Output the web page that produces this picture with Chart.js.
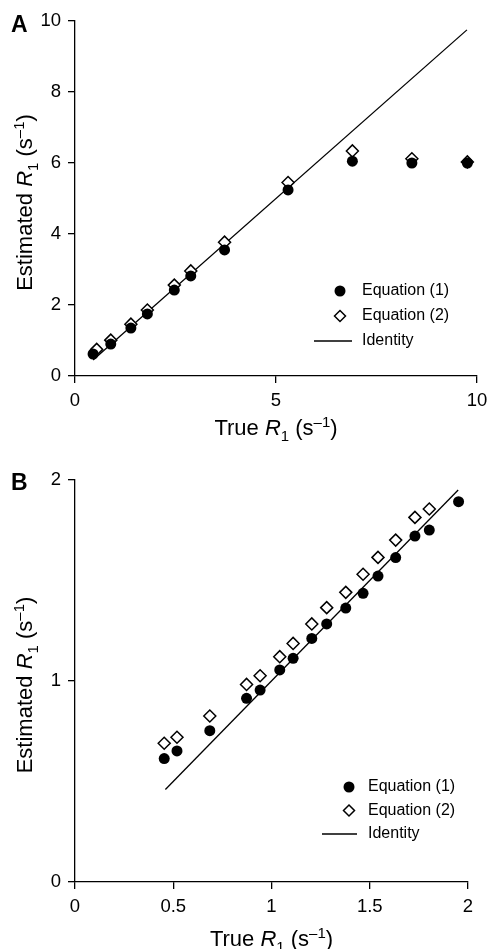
<!DOCTYPE html>
<html>
<head>
<meta charset="utf-8">
<script src="https://cdn.jsdelivr.net/npm/chart.js@4"></script>
<style>
  html, body { margin: 0; padding: 0; background: #fff; }
  .panel { position: absolute; left: 0; width: 490px; }
  #panelA { top: 0; height: 460px; }
  #panelB { top: 460px; height: 489px; }
</style>
</head>
<body>
<div class="panel" id="panelA"><canvas id="chartA"></canvas></div>
<div class="panel" id="panelB"><canvas id="chartB"></canvas></div>
<script>
// panel A
const trueA1 = [0.45, 0.89, 1.39, 1.80, 2.47, 2.88, 3.72, 5.30, 6.90, 8.38, 9.76];
const estA1 = [0.62, 0.90, 1.35, 1.75, 2.42, 2.82, 3.55, 5.24, 6.05, 6.00, 6.00];
const trueA2 = [0.54, 0.89, 1.39, 1.80, 2.47, 2.88, 3.72, 5.30, 6.90, 8.38, 9.76];
const estA2 = [0.75, 1.01, 1.46, 1.86, 2.56, 2.96, 3.77, 5.45, 6.34, 6.12, 6.03];
const identityA = [0.45, 9.75];

// panel B
const trueB1 = [0.454, 0.519, 0.686, 0.873, 0.942, 1.042, 1.110, 1.205, 1.281, 1.378, 1.466, 1.542, 1.632, 1.730, 1.803, 1.952];
const estB1 = [0.614, 0.652, 0.753, 0.914, 0.955, 1.055, 1.113, 1.212, 1.284, 1.363, 1.436, 1.522, 1.614, 1.721, 1.751, 1.892];
const trueB2 = [0.454, 0.519, 0.686, 0.873, 0.942, 1.042, 1.110, 1.205, 1.281, 1.378, 1.466, 1.542, 1.632, 1.730, 1.803];
const estB2 = [0.690, 0.720, 0.826, 0.983, 1.026, 1.121, 1.187, 1.284, 1.365, 1.441, 1.531, 1.615, 1.701, 1.814, 1.856];
const identityB = [0.46, 1.95];

const seriesNames = ['Equation (1)', 'Equation (2)', 'Identity'];

const FONT = '"Liberation Sans", Arial, Helvetica, sans-serif';

// axis titles with italic R, subscript and superscript
const xTitle = [['True ', ''], ['R', 'i'], ['1', 'sub'], [' (s', ''], ['\u20131', 'sup'], [')', '']];
const yTitle = [['Estimated ', ''], ['R', 'i'], ['1', 'sub'], [' (s', ''], ['\u20131', 'sup'], [')', '']];

function partFont(kind, size) {
  if (kind === 'i') return 'italic ' + size + 'px ' + FONT;
  if (kind === 'sub' || kind === 'sup') return Math.round(size * 0.68) + 'px ' + FONT;
  return size + 'px ' + FONT;
}

function drawRich(ctx, parts, cx, y, size) {
  let total = 0;
  parts.forEach(p => { ctx.font = partFont(p[1], size); total += ctx.measureText(p[0]).width; });
  let x = cx - total / 2;
  ctx.textAlign = 'left';
  ctx.textBaseline = 'alphabetic';
  parts.forEach(p => {
    ctx.font = partFont(p[1], size);
    let dy = 0;
    if (p[1] === 'sub') dy = size * 0.28;
    if (p[1] === 'sup') dy = -size * 0.38;
    ctx.fillText(p[0], x, y + dy);
    x += ctx.measureText(p[0]).width;
  });
}

const decorations = {
  id: 'decorations',
  afterDraw(chart, args, o) {
    const ctx = chart.ctx;
    const a = chart.chartArea;
    ctx.save();
    ctx.fillStyle = '#000';
    ctx.strokeStyle = '#000';

    // panel letter
    ctx.font = 'bold 23px ' + FONT;
    ctx.textAlign = 'left';
    ctx.textBaseline = 'alphabetic';
    ctx.fillText(o.letter, 11, o.letterY);

    // axis titles
    drawRich(ctx, xTitle, (a.left + a.right) / 2, a.bottom + o.xTitleOffset, 22);
    ctx.save();
    ctx.translate(o.yTitleX, (a.top + a.bottom) / 2 + 4);
    ctx.rotate(-Math.PI / 2);
    drawRich(ctx, yTitle, 0, 0, 22);
    ctx.restore();

    // legend
    chart.data.datasets.forEach((ds, i) => {
      const y = o.legY + i * o.legGap;
      ctx.lineWidth = 1.3;
      if (ds.showLine) {
        ctx.beginPath();
        ctx.moveTo(o.lineX0, y);
        ctx.lineTo(o.lineX1, y);
        ctx.stroke();
      } else if (ds.pointStyle === 'circle') {
        ctx.beginPath();
        ctx.arc(o.markX, y, ds.pointRadius, 0, Math.PI * 2);
        ctx.fill();
      } else {
        const r = ds.pointRadius - 0.5;
        ctx.beginPath();
        ctx.moveTo(o.markX, y - r);
        ctx.lineTo(o.markX + r, y);
        ctx.lineTo(o.markX, y + r);
        ctx.lineTo(o.markX - r, y);
        ctx.closePath();
        ctx.fillStyle = '#fff';
        ctx.fill();
        ctx.lineWidth = 1.5;
        ctx.stroke();
        ctx.fillStyle = '#000';
      }
      ctx.font = '16px ' + FONT;
      ctx.textAlign = 'left';
      ctx.textBaseline = 'middle';
      ctx.fillText(ds.label, o.textX, y);
    });
    ctx.restore();
  }
};

function pts(xs, ys) {
  return xs.map((x, i) => ({ x: x, y: ys[i] }));
}

function axis(min, max, step, fitKey, fitVal) {
  return {
    type: 'linear',
    min: min,
    max: max,
    afterFit: s => {
      s[fitKey] = fitVal;
      // keep label overflow from shrinking the plot area
      s.paddingLeft = 0; s.paddingRight = 0; s.paddingTop = 0; s.paddingBottom = 0;
    },
    ticks: {
      stepSize: step, color: '#000', font: { family: FONT, size: 18.5 }, padding: 7,
      callback: v => String(Number(v.toFixed(2)))
    },
    grid: { display: true, drawOnChartArea: false, drawTicks: true, tickLength: 7, color: '#000', lineWidth: 1.3 },
    border: { display: true, color: '#000', width: 1.3 }
  };
}

function makeChart(id, d1, d2, idLine, sc, lay, deco) {
  return new Chart(document.getElementById(id), {
    type: 'scatter',
    data: {
      datasets: [
        { label: seriesNames[0], data: d1, pointStyle: 'circle', pointRadius: 5.5,
          backgroundColor: '#000', borderColor: '#000', borderWidth: 0, order: 0 },
        { label: seriesNames[1], data: d2, pointStyle: 'rectRot', pointRadius: 6,
          backgroundColor: '#fff', borderColor: '#000', borderWidth: 1.5, order: 1 },
        { label: seriesNames[2], data: idLine, showLine: true, pointRadius: 0,
          borderColor: '#000', borderWidth: 1.3, backgroundColor: '#000', order: 2 }
      ]
    },
    options: {
      responsive: true,
      maintainAspectRatio: false,
      animation: false,
      layout: { padding: lay },
      scales: sc,
      plugins: { legend: { display: false }, tooltip: { enabled: false }, decorations: deco }
    },
    plugins: [decorations]
  });
}

makeChart('chartA',
  pts(trueA1, estA1), pts(trueA2, estA2), pts(identityA, identityA),
  { x: axis(0, 10, 5, 'height', 84), y: axis(0, 10, 2, 'width', 75) },
  { top: 21, right: 13, left: 0, bottom: 0 },
  { letter: 'A', letterY: 32, xTitleOffset: 59, yTitleX: 32,
    legY: 291, legGap: 25, markX: 340, lineX0: 314, lineX1: 352, textX: 362 });

makeChart('chartB',
  pts(trueB1, estB1), pts(trueB2, estB2), pts(identityB, identityB),
  { x: axis(0, 2, 0.5, 'height', 67), y: axis(0, 2, 1, 'width', 75) },
  { top: 20, right: 22, left: 0, bottom: 0 },
  { letter: 'B', letterY: 30, xTitleOffset: 64, yTitleX: 32,
    legY: 327, legGap: 23.5, markX: 349, lineX0: 322, lineX1: 357, textX: 368 });
</script>
</body>
</html>
